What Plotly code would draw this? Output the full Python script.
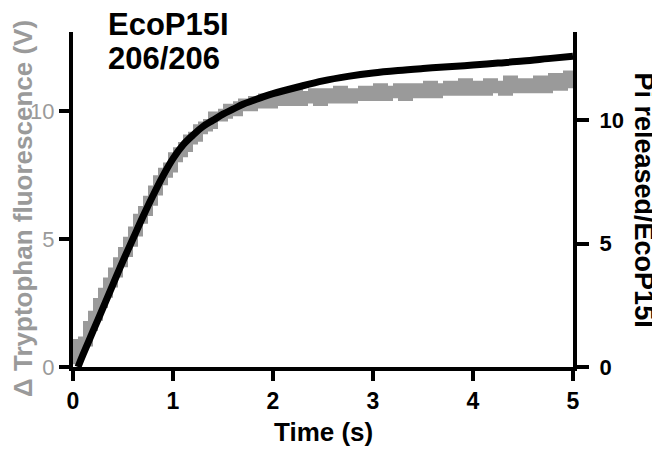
import plotly.graph_objects as go

# grey trace: tryptophan fluorescence change (V), left axis
trace_t = [round(i * 0.05, 2) for i in range(101)]
trace_v = [0.3, 0.9, 1.0, 1.6, 2.0, 2.5, 2.9, 3.3, 3.7, 4.1,
           4.5, 4.9, 5.3, 5.8, 6.1, 6.5, 6.9, 7.3, 7.6, 7.8,
           8.2, 8.4, 8.6, 8.9, 9.0, 9.3, 9.4, 9.5, 9.8, 9.8,
           9.9, 10.1, 10.0, 10.2, 10.3, 10.2, 10.4, 10.3, 10.5, 10.3,
           10.4, 10.6, 10.4, 10.5, 10.7, 10.4, 10.6, 10.5, 10.7, 10.4,
           10.6, 10.7, 10.5, 10.8, 10.6, 10.5, 10.7, 10.6, 10.8, 10.6,
           10.7, 10.9, 10.6, 10.8, 10.7, 10.9, 10.6, 10.8, 10.9, 10.7,
           10.8, 11.0, 10.7, 10.9, 10.8, 11.0, 10.8, 10.9, 11.1, 10.8,
           10.9, 11.0, 10.8, 11.1, 10.9, 11.0, 10.8, 11.2, 10.9, 11.0,
           11.1, 10.9, 11.0, 11.2, 10.9, 11.0, 11.3, 11.0, 11.1, 11.4,
           11.0]

# black curve: Pi released per EcoP15I, right axis
pi_t = [0.05, 0.1, 0.2, 0.3, 0.4, 0.5, 0.6, 0.7, 0.8, 0.9, 1.0,
        1.1, 1.2, 1.3, 1.4, 1.5, 1.6, 1.7, 1.8, 1.9, 2.0,
        2.25, 2.5, 2.75, 3.0, 3.25, 3.5, 3.75, 4.0, 4.25, 4.5, 4.75, 5.0]
pi_v = [0, 0.5, 1.45, 2.4, 3.35, 4.3, 5.2, 6.1, 6.95, 7.75, 8.45,
        9.0, 9.4, 9.75, 10.0, 10.25, 10.45, 10.65, 10.8, 10.95, 11.08,
        11.35, 11.6, 11.78, 11.92, 12.02, 12.1, 12.17, 12.24, 12.32, 12.4, 12.5, 12.6]

grey = '#9a9a9a'
fnt = 'Liberation Sans, Arial, sans-serif'

fig = go.Figure()
fig.add_trace(go.Scatter(x=trace_t, y=trace_v, mode='lines', line_shape='hv',
                         line=dict(color=grey, width=10), hoverinfo='skip'))
fig.add_trace(go.Scatter(x=pi_t, y=pi_v, mode='lines', line_shape='spline',
                         line=dict(color='black', width=7), yaxis='y2'))

axis_common = dict(showgrid=False, zeroline=False, showline=True,
                   linecolor='black', linewidth=4, ticks='outside',
                   tickwidth=4, tickcolor='black')

fig.update_layout(
    width=660, height=449,
    margin=dict(l=65, r=95, t=24, b=90),
    paper_bgcolor='white', plot_bgcolor='white',
    showlegend=False,
    font=dict(family=fnt, color='black'),
    xaxis=dict(range=[0, 5], tickvals=[0, 1, 2, 3, 4, 5], ticklen=10,
               tickfont=dict(size=23, weight='bold'), **axis_common),
    yaxis=dict(range=[0, 13.1], tickvals=[0, 5, 10], ticklen=10,
               tickfont=dict(size=22, color=grey), **axis_common),
    yaxis2=dict(range=[0, 13.58], tickvals=[0, 5, 10], overlaying='y', side='right',
                ticklen=12, ticklabelstandoff=6,
                tickfont=dict(size=22, weight='bold'), **axis_common),
)

fig.add_annotation(text='<b>Δ Tryptophan fluorescence (V)</b>', textangle=-90,
                   xref='paper', yref='paper', x=-0.1, y=0.472,
                   xanchor='center', yanchor='middle', showarrow=False,
                   font=dict(size=26, color=grey))
fig.add_annotation(text='<b>Pi released/EcoP15I</b>', textangle=90,
                   xref='paper', yref='paper', x=1.142, y=0.50,
                   xanchor='center', yanchor='middle', showarrow=False,
                   font=dict(size=27, color='black'))
fig.add_annotation(text='<b>Time (s)</b>', xref='paper', yref='paper',
                   x=0.5, y=-0.194, xanchor='center', yanchor='middle',
                   showarrow=False, font=dict(size=26, color='black'))
fig.add_annotation(text='<b>EcoP15I</b>', xref='paper', yref='paper',
                   x=0.066, y=1.021, xanchor='left', yanchor='middle',
                   showarrow=False, font=dict(size=31, color='black'))
fig.add_annotation(text='<b>206/206</b>', xref='paper', yref='paper',
                   x=0.066, y=0.922, xanchor='left', yanchor='middle',
                   showarrow=False, font=dict(size=31, color='black'))

fig.write_html("out.html")
